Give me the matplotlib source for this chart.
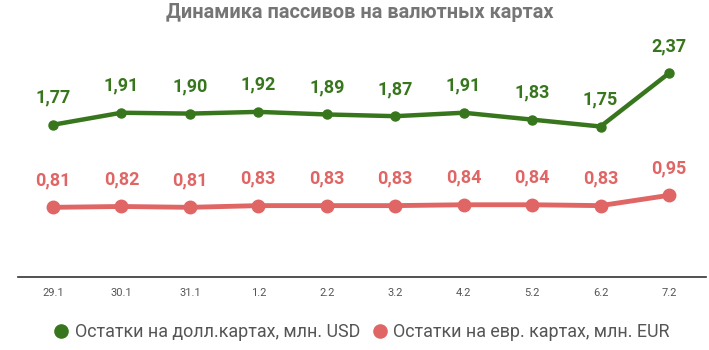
import matplotlib.pyplot as plt
from matplotlib.lines import Line2D

plt.rcParams['font.family'] = ['Roboto', 'DejaVu Sans']

dates = ["29.1", "30.1", "31.1", "1.2", "2.2", "3.2", "4.2", "5.2", "6.2", "7.2"]
usd = [1.77, 1.91, 1.90, 1.92, 1.89, 1.87, 1.91, 1.83, 1.75, 2.37]
eur = [0.81, 0.82, 0.81, 0.83, 0.83, 0.83, 0.84, 0.84, 0.83, 0.95]

green = "#38761d"
red = "#e06666"

fig = plt.figure(figsize=(7.09, 3.5), dpi=100)
ax = fig.add_axes([18 / 709, 1 - 277 / 350, (706 - 18) / 709, (277 - 40) / 350])

x = range(len(dates))
ax.plot(x, usd, color=green, lw=3.2, marker="o", ms=6.5, solid_capstyle="round")
ax.plot(x, eur, color=red, lw=3.5, marker="o", ms=9, solid_capstyle="round")

for i in x:
    ax.annotate(f"{usd[i]:.2f}".replace(".", ","), (i, usd[i]), xytext=(0, 13),
                textcoords="offset points", ha="center", va="bottom",
                fontsize=13, fontweight="bold", color=green)
    ax.annotate(f"{eur[i]:.2f}".replace(".", ","), (i, eur[i]), xytext=(0, 13),
                textcoords="offset points", ha="center", va="bottom",
                fontsize=13, fontweight="bold", color=red)

ax.set_xlim(-0.51, 9.54)
ax.set_ylim(0, 237 / 86.0)
ax.set_xticks(list(x))
ax.set_xticklabels(dates, fontsize=8, color="#555555")
ax.tick_params(axis="x", length=0, pad=8)
ax.set_yticks([])
for side in ["top", "right", "left"]:
    ax.spines[side].set_visible(False)
ax.spines["bottom"].set_color("#333333")
ax.spines["bottom"].set_linewidth(1.2)

fig.text(0.508, 1 - 13 / 350, "Динамика пассивов на валютных картах",
         ha="center", va="center", fontsize=14.3, fontweight="bold", color="#757575")

handles = [
    Line2D([], [], ls="", marker="o", ms=9.5, color=green,
           label="Остатки на долл.картах, млн. USD"),
    Line2D([], [], ls="", marker="o", ms=9.5, color=red,
           label="Остатки на евр. картах, млн. EUR"),
]
fig.legend(handles=handles, loc="center", bbox_to_anchor=(0.508, 1 - 332 / 350),
           ncol=2, frameon=False, fontsize=12.9, labelcolor="#555555",
           handletextpad=0.15, columnspacing=0.5, handlelength=1.2)

fig.savefig("out.png", dpi=100, facecolor="white")
